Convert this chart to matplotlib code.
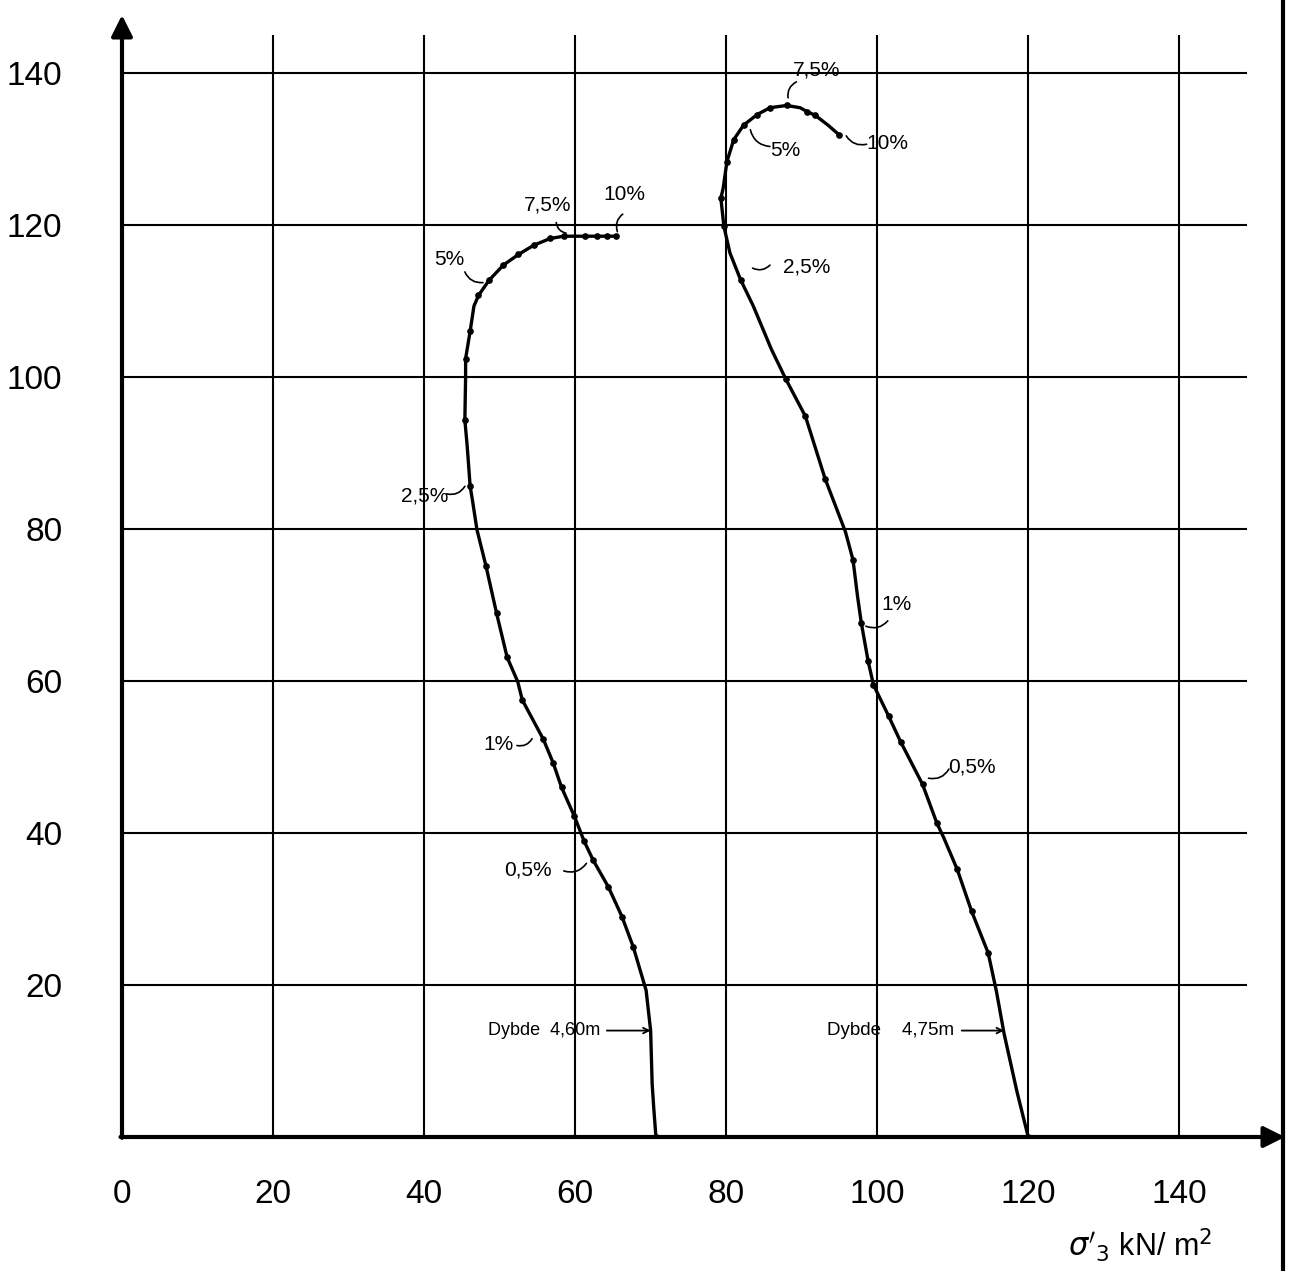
import matplotlib.pyplot as plt

plt.rcParams['font.family'] = ['Liberation Sans', 'DejaVu Sans']

# curve at depth 4.60 m (x = sigma'3, y = deviator)
left_x = [70.7, 70.4, 70.2, 70.0, 69.4, 67.7, 66.2, 64.4, 62.4, 61.2, 59.9, 58.2, 57.1, 55.8,
          53.0, 52.4, 51.0, 49.6, 48.2, 47.0, 46.4, 46.1, 45.7, 45.4, 45.5, 45.5, 46.1, 46.6,
          47.2, 48.6, 50.5, 52.5, 54.5, 56.7, 58.5, 59.8, 61.3, 62.9, 64.2, 65.4]
left_y = [0, 4, 7, 14, 19.3, 25, 29, 32.9, 36.4, 38.9, 42.2, 46.0, 49.2, 52.3,
          57.5, 59.9, 63.1, 68.9, 75.1, 79.9, 83.8, 85.6, 91, 94.3, 100, 102.4, 106.0, 109.3,
          110.7, 112.7, 114.7, 116.1, 117.3, 118.2, 118.5, 118.5, 118.5, 118.5, 118.5, 118.5]
left_dot_x = [70.7, 67.7, 66.2, 64.4, 62.4, 61.2, 59.9, 58.2, 57.1, 55.8, 53.0, 51.0, 49.6, 48.2,
              46.1, 45.4, 45.5, 46.1, 47.2, 48.6, 50.5, 52.5, 54.5, 56.7, 58.5, 61.3, 62.9, 64.2, 65.4]
left_dot_y = [0, 25, 29, 32.9, 36.4, 38.9, 42.2, 46.0, 49.2, 52.3, 57.5, 63.1, 68.9, 75.1,
              85.6, 94.3, 102.4, 106.0, 110.7, 112.7, 114.7, 116.1, 117.3, 118.2, 118.5, 118.5,
              118.5, 118.5, 118.5]

# curve at depth 4.75 m
right_x = [120, 118.5, 116.8, 115.8, 114.7, 112.5, 110.6, 108.8, 107.9, 106.0, 103.1, 101.5,
           99.5, 98.8, 97.9, 97.4, 96.8, 95.8, 93.1, 90.5, 87.9, 86.0, 83.6, 81.9, 80.5, 79.7,
           79.3, 79.6, 80.1, 81.0, 82.3, 84.1, 85.8, 88.0, 89.8, 90.7, 91.8, 93.5, 95.0]
right_y = [0, 6, 13.6, 19.1, 24.2, 29.7, 35.2, 39.4, 41.3, 46.4, 52.0, 55.4,
           59.5, 62.6, 67.6, 71.1, 75.9, 79.6, 86.6, 94.8, 99.7, 103.6, 109.3, 112.8, 116.3, 119.8,
           123.5, 124.8, 128.3, 131.2, 133.1, 134.5, 135.4, 135.7, 135.4, 134.9, 134.4, 133.1, 131.8]
right_dot_x = [120, 114.7, 112.5, 110.6, 107.9, 106.0, 103.1, 101.5, 99.5, 98.8, 97.9, 96.8,
               93.1, 90.5, 87.9, 81.9, 79.7, 79.3, 80.1, 81.0, 82.3, 84.1, 85.8, 88.0, 90.7, 91.8, 95.0]
right_dot_y = [0, 24.2, 29.7, 35.2, 41.3, 46.4, 52.0, 55.4, 59.5, 62.6, 67.6, 75.9,
               86.6, 94.8, 99.7, 112.8, 119.8, 123.5, 128.3, 131.2, 133.1, 134.5, 135.4, 135.7,
               134.9, 134.4, 131.8]

x_ticks = [0, 20, 40, 60, 80, 100, 120, 140]
y_ticks = [20, 40, 60, 80, 100, 120, 140]

fig = plt.figure(figsize=(12.95, 12.71), dpi=100)
ax = fig.add_axes([122 / 1295, 1 - 1137 / 1271, 1163 / 1295, 1122 / 1271])
ax.set_xlim(0, 154.0)
ax.set_ylim(0, 147.6)
for s in ax.spines.values():
    s.set_visible(False)

# grid drawn by hand, it does not run to the axes edge
ax.vlines(x_ticks[1:], 0, 145, color='black', lw=1.5)
ax.hlines(y_ticks, 0, 149, color='black', lw=1.5)

# axes with arrows
ax.annotate('', xy=(0, 147.6), xytext=(0, -0.1),
            arrowprops=dict(arrowstyle='-|>', lw=3, mutation_scale=32, color='black',
                            shrinkA=0, shrinkB=0), annotation_clip=False)
ax.annotate('', xy=(154.0, 0), xytext=(-0.2, 0),
            arrowprops=dict(arrowstyle='-|>', lw=3, mutation_scale=32, color='black',
                            shrinkA=0, shrinkB=0), annotation_clip=False)

ax.plot(left_x, left_y, color='black', lw=2.4)
ax.plot(left_dot_x, left_dot_y, 'o', color='black', ms=3.8)
ax.plot(right_x, right_y, color='black', lw=2.4)
ax.plot(right_dot_x, right_dot_y, 'o', color='black', ms=3.8)

ax.set_xticks(x_ticks)
ax.set_xticklabels([str(v) for v in x_ticks], fontsize=24)
ax.set_yticks(y_ticks)
ax.set_yticklabels([str(v) for v in y_ticks], fontsize=24)
ax.tick_params(axis='x', length=0, pad=30)
ax.tick_params(axis='y', length=0, pad=43)

ax.text(134.8, -14.2, r"$\sigma'_3$ kN/ m$^2$", fontsize=22, ha='center', va='center',
        clip_on=False)

# strain labels with small squiggles to the curve
notes = [
    ("7,5%", 56.4, 122.6, (57.5, 120.3), (58.8, 118.9)),
    ("10%", 66.5, 124.0, (66.3, 121.4), (65.6, 119.1)),
    ("5%", 43.4, 115.4, (45.4, 113.8), (47.8, 112.4)),
    ("2,5%", 40.1, 84.3, (43.0, 84.6), (45.4, 85.6)),
    ("1%", 49.8, 51.6, (52.3, 51.5), (54.3, 52.4)),
    ("0,5%", 53.8, 35.1, (58.5, 35.0), (61.5, 36.0)),
    ("7,5%", 92.0, 140.4, (89.3, 138.8), (88.2, 136.7)),
    ("10%", 101.3, 130.7, (95.9, 131.7), (98.6, 130.6)),
    ("5%", 87.8, 129.8, (83.2, 132.5), (85.8, 130.3)),
    ("2,5%", 90.6, 114.5, (83.5, 114.3), (85.8, 114.7)),
    ("1%", 102.6, 70.0, (98.5, 67.2), (101.4, 67.9)),
    ("0,5%", 112.5, 48.7, (106.8, 47.2), (109.5, 48.4)),
]
for label, tx, ty, p0, p1 in notes:
    ax.text(tx, ty, label, fontsize=15, ha='center', va='center')
    ax.annotate('', xy=p1, xytext=p0,
                arrowprops=dict(arrowstyle='-', lw=1.2, color='black',
                                connectionstyle='arc3,rad=0.35', shrinkA=0, shrinkB=0))

ax.text(48.5, 14.0, "Dybde  4,60m", fontsize=13, ha='left', va='center')
ax.annotate('', xy=(70.0, 14.0), xytext=(64.2, 14.0),
            arrowprops=dict(arrowstyle='->', lw=1.3, color='black', shrinkA=0, shrinkB=0))
ax.text(93.4, 14.0, "Dybde    4,75m", fontsize=13.5, ha='left', va='center')
ax.annotate('', xy=(116.8, 14.0), xytext=(111.2, 14.0),
            arrowprops=dict(arrowstyle='->', lw=1.3, color='black', shrinkA=0, shrinkB=0))

# page border on the right
fig.add_artist(plt.Line2D([1283 / 1295, 1283 / 1295], [0, 1], color='black', lw=3))

fig.savefig("out.png", dpi=100)
